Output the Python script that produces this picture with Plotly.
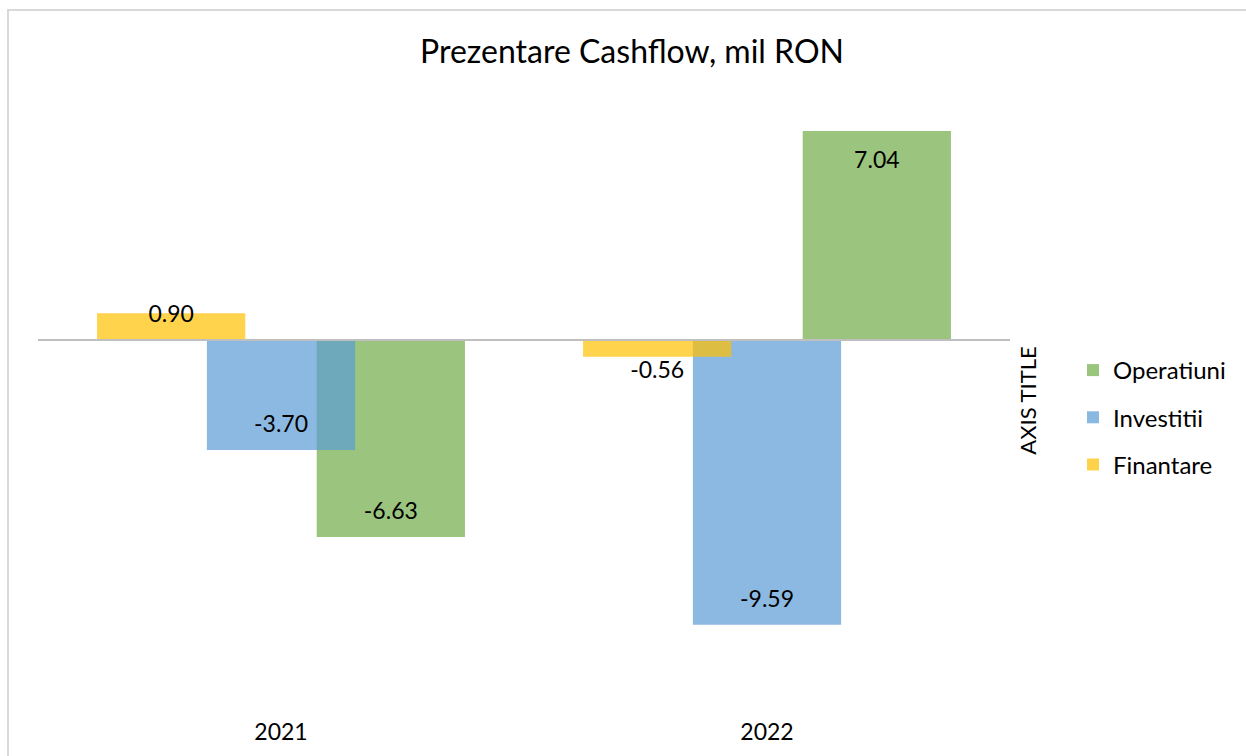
import plotly.graph_objects as go

# ---- data ----
categories = ["2021", "2022"]
series_names = ["Operatiuni", "Investitii", "Finantare"]
operatiuni = [-6.63, 7.04]
investitii = [-3.70, -9.59]
finantare = [0.90, -0.56]

# ---- style ----
colors = {"Operatiuni": "#70AD47", "Investitii": "#5B9BD5", "Finantare": "#FFC000"}
offsets = {"Finantare": -0.226, "Investitii": 0.0, "Operatiuni": 0.226}
bar_width = 0.305
FONT = "Lato"

W, H = 1246, 756
L, R, T, B = 38, 236, 85, 40
plot_w = W - L - R
plot_h = H - T - B
zero_px = 340
px_per_unit = 29.7
y_top = (zero_px - T) / px_per_unit
y_bot = -((H - B) - zero_px) / px_per_unit

values = {"Operatiuni": operatiuni, "Investitii": investitii, "Finantare": finantare}
xi = list(range(len(categories)))

fig = go.Figure()

# draw order: Operatiuni (bottom), Investitii, Finantare (top)
for gi, name in enumerate(series_names):
    fig.add_trace(go.Bar(
        x=[i + offsets[name] for i in xi],
        y=values[name],
        width=bar_width,
        name=name,
        legendgroup=f"g{gi}",
        marker=dict(color=colors[name], line=dict(width=0)),
        opacity=0.7,
        hoverinfo="x+y+name",
    ))

# data labels (inside end; small bars pushed outside)
lab_x, lab_y, lab_t = [], [], []
inset = 0.93
baseline_adj = 0.13
for name in series_names:
    for i, v in zip(xi, values[name]):
        s = 1 if v >= 0 else -1
        lab_x.append(i + offsets[name])
        lab_y.append(s * max(abs(v) - inset, 0.94) - baseline_adj)
        lab_t.append(f"{v:.2f}")
fig.add_trace(go.Scatter(
    x=lab_x, y=lab_y, text=lab_t, mode="text",
    textfont=dict(family=FONT, size=23, color="#000000"),
    showlegend=False, hoverinfo="skip",
))

# border of chart area
fig.add_shape(type="rect", xref="paper", yref="paper",
              x0=(8 - L) / plot_w, x1=(W + 40 - L) / plot_w,
              y0=-1.0, y1=((H - B) - 10) / plot_h,
              line=dict(color="#d9d9d9", width=2), fillcolor="rgba(0,0,0,0)",
              layer="below")
# zero line above bars
fig.add_shape(type="line", xref="paper", yref="y", x0=0, x1=1, y0=0, y1=0,
              line=dict(color="#bfbfbf", width=2), layer="above")

fig.update_layout(
    width=W, height=H,
    margin=dict(l=L, r=R, t=T, b=B, autoexpand=False),
    paper_bgcolor="white", plot_bgcolor="white",
    barmode="overlay",
    font=dict(family=FONT, size=22, color="#000000"),
    title=dict(text="Prezentare Cashflow, mil RON", x=632 / W, xanchor="center",
               y=1 - 52 / H, yanchor="middle", yref="container",
               font=dict(family=FONT, size=32, color="#000000")),
    showlegend=True,
    legend=dict(x=(1073 - L) / plot_w, xanchor="left",
                y=((H - B) - 348) / plot_h, yanchor="top",
                font=dict(family=FONT, size=24, color="#000000"),
                tracegroupgap=13, bgcolor="rgba(0,0,0,0)"),
    xaxis=dict(range=[-0.5, 1.5], tickvals=xi, ticktext=categories,
               showgrid=False, zeroline=False, showline=False, ticks="",
               tickfont=dict(family=FONT, size=23, color="#000000")),
    yaxis=dict(range=[y_bot, y_top], showgrid=False, zeroline=False,
               showline=False, showticklabels=False, ticks="", side="right",
               title=dict(text="AXIS TITLE", standoff=10,
                          font=dict(family=FONT, size=22, color="#000000"))),
)

fig.write_html("out.html", config={"displayModeBar": False},
               post_script="document.body.style.margin='0';document.body.style.padding='0';")
